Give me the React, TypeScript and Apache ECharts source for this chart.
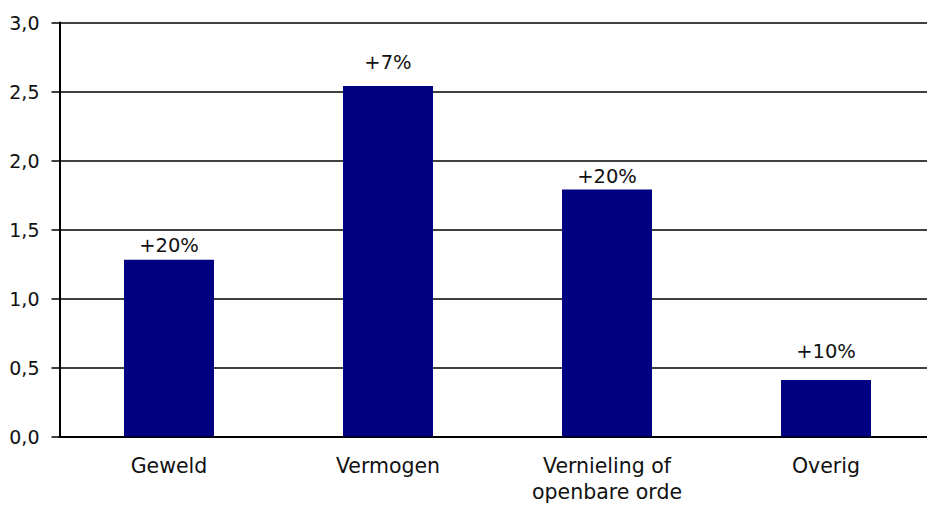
import React, { useEffect, useRef } from "react";
import * as echarts from "echarts";

const categories = ["Geweld", "Vermogen", "Vernieling of\nopenbare orde", "Overig"];
const values = [1.28, 2.54, 1.79, 0.41];
const changeLabels = ["+20%", "+7%", "+20%", "+10%"];
const labelLift = [0, 9, -1, 14];
const yTicks = { min: 0, max: 3, interval: 0.5 };

export default function App() {
  const ref = useRef<HTMLDivElement>(null);
  useEffect(() => {
    if (!ref.current) return;
    const chart = echarts.init(ref.current, null, { renderer: "svg" });
    const font = "DejaVu Sans";
    chart.setOption({
      animation: false,
      backgroundColor: "#ffffff",
      grid: {
        left: 59.5,
        top: 22.5,
        width: 876,
        height: 414,
        containLabel: false,
        outerBoundsMode: "none",
      },
      xAxis: {
        type: "category",
        data: categories,
        axisLine: { show: true, lineStyle: { color: "#000", width: 2 } },
        axisTick: { show: false },
        axisLabel: {
          color: "#111",
          fontFamily: font,
          fontSize: 20.5,
          lineHeight: 26,
          margin: 16,
          interval: 0,
        },
      },
      yAxis: {
        type: "value",
        min: yTicks.min,
        max: yTicks.max,
        interval: yTicks.interval,
        axisLine: { show: true, lineStyle: { color: "#000", width: 2 } },
        axisTick: { show: true, length: 8, lineStyle: { color: "#000", width: 1.5 } },
        splitLine: { show: true, lineStyle: { color: "#000", width: 1.5 } },
        axisLabel: {
          color: "#111",
          fontFamily: font,
          fontSize: 19,
          margin: 20,
          formatter: (v: number) => v.toFixed(1).replace(".", ","),
        },
      },
      series: [
        {
          type: "bar",
          data: values.map((v, i) => ({
            value: v,
            label: { offset: [0, -labelLift[i]] },
          })),
          barWidth: 90,
          itemStyle: { color: "#000080" },
          label: {
            show: true,
            position: "top",
            distance: 4,
            color: "#111",
            fontFamily: font,
            fontSize: 19.5,
            formatter: (p: any) => changeLabels[p.dataIndex],
          },
        },
      ],
    });
    return () => chart.dispose();
  }, []);
  return <div ref={ref} style={{ width: 927, height: 506, position: "absolute", left: 0, top: 0 }} />;
}
